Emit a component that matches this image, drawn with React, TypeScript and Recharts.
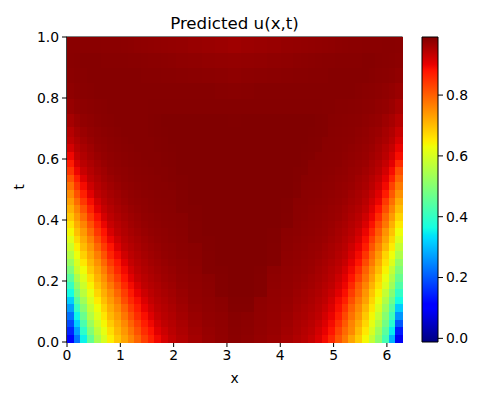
import React from 'react';
import { ScatterChart, Scatter, BarChart, Bar, XAxis, YAxis } from 'recharts';

const XMAX = 2 * Math.PI;
const U_MIN = -0.012;
const U_MAX = 0.991;

const PLOT_W = 335;
const PLOT_H = 305;
const FONT = '"DejaVu Sans", sans-serif';

const xTicks = [0, 1, 2, 3, 4, 5, 6];
const tTicks = [0, 0.2, 0.4, 0.6, 0.8, 1];
const barTicks = [0, 0.2, 0.4, 0.6, 0.8];

const xCentres = [
  0.06, 0.19, 0.31, 0.44, 0.57, 0.69, 0.82, 0.94, 1.07, 1.2, 1.32, 1.45, 1.57, 1.7, 1.82, 1.95,
  2.15, 2.4, 2.65, 2.9, 3.14, 3.38, 3.63, 3.88, 4.13,
  4.33, 4.46, 4.58, 4.71, 4.84, 4.96, 5.09, 5.21, 5.34, 5.46, 5.59, 5.72, 5.84, 5.97, 6.09, 6.22,
];

const tCentres = [
  0.0125, 0.0375, 0.0625, 0.0875, 0.1125, 0.1375, 0.1625, 0.1875, 0.2125, 0.2375,
  0.2625, 0.2875, 0.3125, 0.3375, 0.3625, 0.3875, 0.4125, 0.4375, 0.4625, 0.4875,
  0.5125, 0.5375, 0.5625, 0.5875, 0.6125, 0.6375, 0.6625, 0.6875,
  0.725, 0.775, 0.825, 0.875, 0.925, 0.975,
];

// u x 1000, one row per t
const uRows = [
  [114,230,352,460,546,600,648,689,725,758,795,835,866,892,916,934,947,959,969,975,981,978,972,967,958,949,941,930,912,890,859,811,773,727,685,636,576,508,422,290,90],
  [148,273,392,496,570,619,665,706,740,777,815,854,881,907,926,940,952,963,971,976,982,979,974,970,961,953,945,937,920,900,879,831,789,755,703,654,601,532,449,347,140],
  [185,317,428,525,593,638,685,720,755,796,833,870,893,919,936,945,955,966,973,977,983,980,975,971,964,955,949,941,928,910,889,851,806,762,720,672,619,558,477,385,200],
  [224,356,467,555,612,656,704,735,775,816,855,885,908,930,941,949,959,969,975,978,984,981,976,972,966,958,953,946,937,919,899,871,825,781,740,688,637,579,502,416,260],
  [269,402,503,578,632,678,719,752,795,837,871,899,921,938,946,953,963,972,977,980,987,987,977,973,969,961,955,950,941,928,910,885,846,797,755,707,656,604,528,445,314],
  [316,442,534,602,651,698,735,771,820,857,886,912,932,943,950,958,966,975,978,981,988,988,978,974,971,964,959,953,945,936,919,892,868,818,772,730,675,624,553,474,362],
  [362,483,565,622,673,715,751,792,836,874,900,925,939,948,955,961,969,976,979,987,990,990,987,975,972,966,961,956,950,940,928,907,885,838,792,743,692,642,577,503,397],
  [405,517,587,642,694,731,772,814,857,889,915,936,945,952,959,965,972,977,980,987,990,990,987,977,973,969,965,960,953,945,936,917,895,859,805,761,712,663,606,533,435],
  [447,550,610,663,712,748,796,836,878,905,929,941,950,957,964,968,974,978,981,987,990,990,987,978,974,971,967,962,957,950,941,926,905,881,832,782,733,678,624,555,465],
  [491,585,632,688,728,768,816,859,891,920,937,947,954,961,966,971,976,979,987,988,990,990,988,979,975,972,970,966,959,953,945,935,916,892,854,799,750,701,642,578,494],
  [526,602,655,707,747,791,838,875,906,931,943,952,959,965,970,974,977,981,987,990,990,990,990,987,977,974,971,968,963,957,950,941,928,903,879,823,773,720,662,609,520],
  [559,627,679,725,768,814,862,892,921,939,948,957,963,968,973,976,979,982,987,990,990,990,990,987,978,975,972,970,966,960,955,946,936,915,890,846,789,738,676,630,552],
  [587,648,701,743,792,838,880,909,934,945,953,961,966,971,975,977,980,982,988,990,990,990,990,987,979,976,974,971,969,963,957,950,941,924,901,871,811,762,706,651,578],
  [612,672,719,764,817,862,896,923,941,951,958,965,970,974,977,979,981,987,988,990,990,990,990,988,980,978,975,973,971,967,961,955,946,935,914,886,835,783,729,673,607],
  [637,697,738,789,842,881,914,936,947,956,963,969,973,976,978,980,982,987,990,990,990,990,990,988,981,979,977,975,972,970,965,958,951,941,925,897,860,805,746,695,630],
  [661,718,761,814,864,897,928,942,952,961,967,972,976,978,980,981,983,987,990,990,990,990,990,990,987,980,978,976,974,971,967,961,955,946,935,912,884,828,775,715,652],
  [688,738,786,841,885,917,938,949,958,965,970,975,977,979,981,982,983,988,990,990,990,990,990,990,987,981,979,977,975,972,970,966,959,951,941,923,896,855,792,737,676],
  [712,759,813,866,904,931,945,955,962,969,973,977,979,981,982,983,987,988,990,990,990,990,990,990,988,981,980,978,976,974,971,968,962,955,947,934,909,881,819,761,700],
  [733,787,842,887,920,940,952,960,967,973,976,978,980,982,983,984,987,990,990,990,990,990,990,990,988,982,981,979,978,976,973,971,966,959,953,941,921,897,841,784,721],
  [755,816,868,906,936,947,957,964,971,975,978,980,981,983,984,984,987,990,990,990,990,990,990,990,990,987,981,980,979,977,975,972,970,963,956,947,932,908,872,808,747],
  [784,846,889,924,943,953,962,969,974,977,979,981,983,984,984,985,988,990,990,990,990,990,990,990,990,987,982,981,980,978,977,973,971,967,960,953,940,921,891,832,771],
  [814,871,909,938,950,960,967,973,977,979,981,982,983,984,985,987,988,990,990,990,990,990,990,990,990,988,983,982,981,979,978,975,973,970,963,957,946,932,904,865,796],
  [846,895,928,945,957,964,972,976,978,980,982,983,984,985,985,987,990,990,990,990,990,990,990,990,990,988,987,982,982,980,979,977,975,971,968,961,953,941,919,888,820],
  [872,916,940,952,962,970,975,978,980,982,983,984,985,985,987,988,990,990,990,990,990,990,990,990,990,990,988,983,982,981,980,979,976,973,970,966,957,947,931,905,856],
  [894,933,948,959,968,973,977,979,981,983,984,985,985,985,987,988,990,990,990,990,990,990,990,990,990,990,988,987,983,982,981,980,978,975,972,969,962,954,940,919,887],
  [919,943,955,964,973,976,979,981,983,984,985,985,985,987,988,989,990,990,990,990,990,990,990,990,990,990,989,988,987,982,982,981,979,977,974,971,966,958,946,931,899],
  [937,951,962,970,976,978,980,982,984,985,985,985,985,987,988,990,990,990,990,990,990,990,990,990,990,990,990,988,987,983,982,981,980,979,976,973,970,962,954,941,915],
  [945,959,968,974,978,980,982,984,985,985,985,985,987,988,989,990,990,990,990,990,990,990,990,990,990,990,990,989,988,987,983,982,981,980,978,975,971,967,958,948,929],
  [958,968,975,978,981,983,984,985,985,985,985,985,987,988,990,990,990,990,990,990,989,990,990,990,990,990,990,990,988,987,984,983,982,981,980,978,975,972,965,957,944],
  [971,977,979,981,983,984,985,985,985,985,985,985,986,986,986,986,986,986,986,986,986,986,986,986,986,986,986,986,986,985,985,984,984,983,982,980,979,976,973,967,957],
  [978,981,983,984,985,985,985,985,985,985,985,985,985,985,985,985,985,985,985,984,983,984,985,985,985,985,985,985,985,985,985,985,985,985,984,982,981,979,977,973,968],
  [981,983,984,985,985,985,985,985,985,985,985,984,984,984,983,983,982,981,980,979,978,979,980,981,982,983,983,984,984,984,985,985,985,985,985,985,984,982,981,979,976],
  [983,984,985,985,985,984,984,984,984,983,983,982,981,981,980,979,978,977,975,974,973,974,975,977,978,979,980,981,982,983,983,984,984,984,984,985,985,984,983,982,980],
  [982,982,982,982,982,981,981,981,980,979,978,977,976,975,974,973,972,970,968,966,964,966,968,970,972,973,974,975,976,977,978,979,980,981,981,982,982,982,983,983,982],
];

const colorBar = [{ name: 'u', range: [U_MIN, U_MAX] }];

// matplotlib jet
const ramp = (pts: number[][], n: number) => {
  for (let i = 1; i < pts.length; i++) {
    if (n <= pts[i][0]) {
      const f = (n - pts[i - 1][0]) / (pts[i][0] - pts[i - 1][0]);
      return pts[i - 1][1] + f * (pts[i][1] - pts[i - 1][1]);
    }
  }
  return pts[pts.length - 1][1];
};
const jet = (n: number) => {
  const r = ramp([[0, 0], [0.35, 0], [0.66, 1], [0.89, 1], [1, 0.5]], n);
  const g = ramp([[0, 0], [0.125, 0], [0.375, 1], [0.64, 1], [0.91, 0], [1, 0]], n);
  const b = ramp([[0, 0.5], [0.11, 1], [0.34, 1], [0.65, 0], [1, 0]], n);
  return `rgb(${Math.round(r * 255)},${Math.round(g * 255)},${Math.round(b * 255)})`;
};
const jetStops = [0, 0.11, 0.125, 0.34, 0.35, 0.375, 0.64, 0.65, 0.66, 0.89, 0.91, 1];

const edges = (c: number[], lo: number, hi: number) =>
  c.map((v, i) => [i === 0 ? lo : (c[i - 1] + v) / 2, i === c.length - 1 ? hi : (v + c[i + 1]) / 2]);

const xEdges = edges(xCentres, 0, XMAX);
const tEdges = edges(tCentres, 0, 1);

const cells = tCentres.flatMap((t, r) =>
  xCentres.map((x, c) => ({
    x,
    t,
    u: uRows[r][c] / 1000,
    x0: xEdges[c][0],
    x1: xEdges[c][1],
    t0: tEdges[r][0],
    t1: tEdges[r][1],
  }))
);

const HeatCell = (props: any) => {
  const { cx, cy, payload } = props;
  const sx = PLOT_W / XMAX;
  const n = (payload.u - U_MIN) / (U_MAX - U_MIN);
  return (
    <rect
      x={cx - (payload.x - payload.x0) * sx}
      y={cy - (payload.t1 - payload.t) * PLOT_H}
      width={(payload.x1 - payload.x0) * sx + 0.5}
      height={(payload.t1 - payload.t0) * PLOT_H + 0.5}
      fill={jet(n)}
      shapeRendering="crispEdges"
    />
  );
};

const tickStyle = { fontSize: 13.9, fontFamily: FONT, fill: '#000' };
const lineStyle = { stroke: '#000', strokeWidth: 1 };

const App = () => (
  <div style={{ position: 'absolute', left: 0, top: 0, width: 500, height: 400 }}>
    <div style={{ position: 'absolute', left: 0, top: 0 }}>
      <ScatterChart width={500} height={400} margin={{ top: 37, right: 98, bottom: 0, left: 0 }}>
        <XAxis
          type="number"
          dataKey="x"
          domain={[0, XMAX]}
          ticks={xTicks}
          interval={0}
          height={58}
          tick={tickStyle}
          axisLine={lineStyle}
          tickLine={lineStyle}
          tickSize={5}
          tickMargin={3}
          label={{ value: 'x', position: 'insideBottom', offset: 17, style: tickStyle }}
        />
        <YAxis
          type="number"
          dataKey="t"
          domain={[0, 1]}
          ticks={tTicks}
          interval={0}
          width={67}
          tick={tickStyle}
          axisLine={lineStyle}
          tickLine={lineStyle}
          tickSize={5}
          tickMargin={3}
          tickFormatter={(v: number) => v.toFixed(1)}
          label={{ value: 't', angle: -90, position: 'insideLeft', offset: 19, style: tickStyle }}
        />
        <Scatter data={cells} shape={HeatCell} isAnimationActive={false} />
        <rect x={67} y={37} width={PLOT_W} height={PLOT_H} fill="none" stroke="#000" />
        <text x={234.5} y={29} textAnchor="middle" fontSize={16.67} fontFamily={FONT} fill="#000">
          Predicted u(x,t)
        </text>
      </ScatterChart>
    </div>
    <div style={{ position: 'absolute', left: 0, top: 0 }}>
      <BarChart
        width={500}
        height={400}
        data={colorBar}
        barCategoryGap={0}
        margin={{ top: 37, right: 0, bottom: 58, left: 422 }}
      >
        <defs>
          <linearGradient id="jetBar" x1="0" y1="1" x2="0" y2="0">
            {jetStops.map((s) => (
              <stop key={s} offset={s} stopColor={jet(s)} />
            ))}
          </linearGradient>
        </defs>
        <XAxis dataKey="name" hide />
        <YAxis
          orientation="right"
          type="number"
          domain={[U_MIN, U_MAX]}
          ticks={barTicks}
          interval={0}
          width={62}
          tick={tickStyle}
          axisLine={false}
          tickLine={lineStyle}
          tickSize={5}
          tickMargin={3}
          tickFormatter={(v: number) => v.toFixed(1)}
        />
        <Bar dataKey="range" fill="url(#jetBar)" stroke="#000" strokeWidth={1} isAnimationActive={false} />
      </BarChart>
    </div>
  </div>
);

export default App;
